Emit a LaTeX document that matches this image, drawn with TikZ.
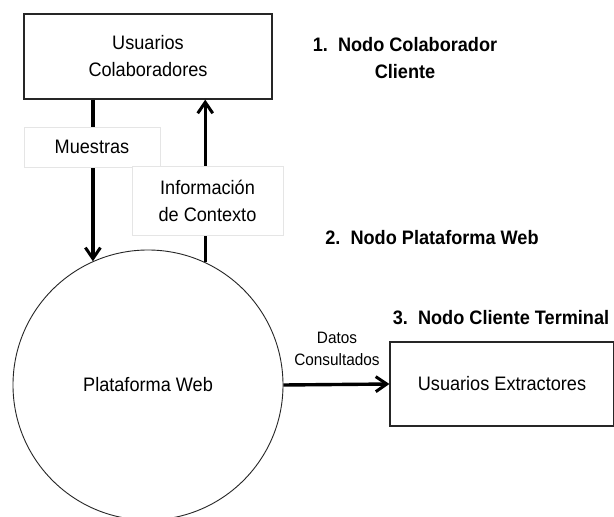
\documentclass[tikz,border=0pt]{standalone}
\usepackage{fontspec}
\setmainfont{Liberation Sans}[FakeStretch=0.93]
\usepackage{tikz}
\usetikzlibrary{positioning,arrows.meta}

\begin{document}
\begin{tikzpicture}[x=1pt,y=-1pt,
  every node/.style={font=\fontsize{19.5}{27}\selectfont, align=center},
  entity/.style={draw=black!85, line width=1.2pt, inner sep=0pt},
  label/.style={draw=black!10, fill=white, inner sep=0pt},
  flow/.style={line width=3.4pt, -{Straight Barb[length=11pt,width=15pt,line width=3pt]}},
  title/.style={font=\fontsize{19.5}{27}\selectfont\bfseries}]
  \clip (0,0) rectangle (614,517);
  \fill[white] (0,0) rectangle (614,517);
  \node[entity, minimum width=248pt, minimum height=85pt] (colab) at (148,56.5) {Usuarios\\Colaboradores};
  \node[entity, circle, line width=0.9pt, minimum size=270pt] (web) at (148,385) {Plataforma Web};
  \node[entity, minimum width=224pt, minimum height=84pt] (extr) at (502,384) {Usuarios Extractores};
  \draw[flow] (colab.south -| web.114.5) -- (web.114.5);
  \draw[flow] (web.65.5) -- (colab.south -| web.65.5);
  \draw[flow] (web.east) -- (extr.west);
  \node[label, minimum width=136pt, minimum height=40pt] (mues) at (92,147) {Muestras};
  \node[label, minimum width=151pt, minimum height=69pt] (info) at (207.5,200.5) {Información\\de Contexto};
  \node[font=\fontsize{16.5}{22}\selectfont] (datos) at (337,349) {Datos\\Consultados};
  \node[title] (n1) at (405,58) {1.~~Nodo Colaborador\\Cliente};
  \node[title] (n2) at (432,238) {2.~~Nodo Plataforma Web};
  \node[title] (n3) at (501,318) {3.~~Nodo Cliente Terminal};
\end{tikzpicture}
\end{document}
